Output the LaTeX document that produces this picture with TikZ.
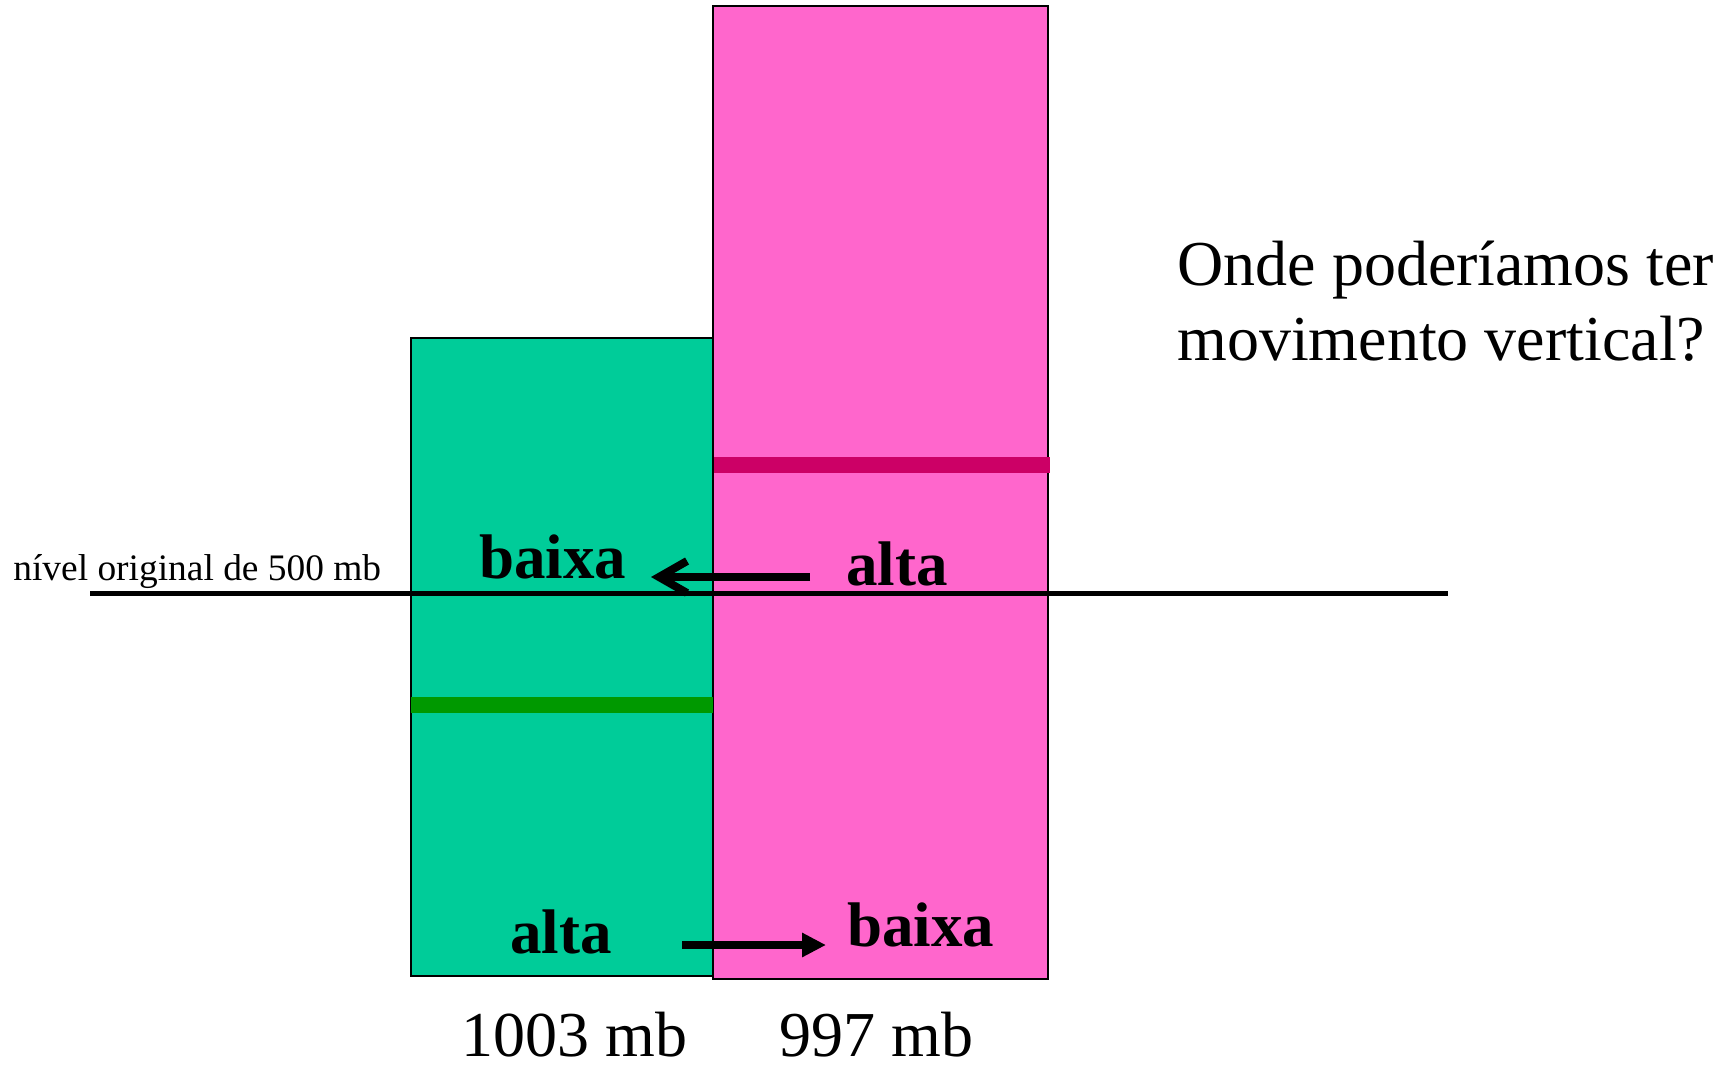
\documentclass[tikz,border=0pt]{standalone}
\usepackage{fontspec}
\setmainfont{Liberation Serif}
\usetikzlibrary{arrows.meta}
\definecolor{boxgreen}{RGB}{0,204,153}
\definecolor{boxpink}{RGB}{255,102,204}
\definecolor{levelmagenta}{RGB}{204,0,102}
\definecolor{levelgreen}{RGB}{0,153,0}
\tikzset{
  column/.style={draw=black, line width=1pt},
  levelbar/.style={line width=7.75pt},
  basetext/.style={anchor=base west, inner sep=0pt, font=\fontsize{32pt}{38pt}\selectfont},
  boldtext/.style={anchor=base west, inner sep=0pt, font=\fontsize{31.5pt}{37.8pt}\selectfont\bfseries},
  smalltext/.style={anchor=base west, inner sep=0pt, font=\fontsize{18.7pt}{22pt}\selectfont},
  flowarrow/.style={line width=4pt, -{Straight Barb[length=14pt,width=16pt]}},
  fillarrow/.style={line width=3.85pt, -{Triangle[length=12pt,width=11.5pt]}}
}
\begin{document}
\begin{tikzpicture}[x=0.5pt,y=-0.5pt]
\useasboundingbox (0,0) rectangle (1734,1065);
% columns
\filldraw[column, fill=boxgreen] (411,338) rectangle (713,976);
\filldraw[column, fill=boxpink] (713,6) rectangle (1048,979);
% pressure levels
\coordinate (mg-l) at (714,465);
\coordinate (mg-r) at (1050,465);
\draw[levelbar, levelmagenta] (mg-l) -- (mg-r);
\coordinate (gr-l) at (411,705);
\coordinate (gr-r) at (713,705);
\draw[levelbar, levelgreen] (gr-l) -- (gr-r);
% original 500 mb level
\coordinate (lv-l) at (90,593);
\coordinate (lv-r) at (1448,593);
\draw[line width=2.5pt] (lv-l) -- (lv-r);
\node[smalltext] (lvtext) at (13,580) {nível original de 500 mb};
% upper labels and arrow
\node[boldtext] (ubaixa) at (479,578) {baixa};
\node[boldtext] (ualta) at (846,585) {alta};
\coordinate (ua-s) at (810,577);
\coordinate (ua-e) at (651,577);
\draw[flowarrow] (ua-s) -- (ua-e);
% lower labels and arrow
\node[boldtext] (lalta) at (510,953) {alta};
\node[boldtext] (lbaixa) at (847,946) {baixa};
\coordinate (la-s) at (682,945);
\coordinate (la-e) at (826,945);
\draw[fillarrow] (la-s) -- (la-e);
% surface pressures
\node[basetext] (p1003) at (461,1056) {1003 mb};
\node[basetext] (p997) at (779,1056) {997 mb};
% question
\node[basetext] (q1) at (1177,285) {Onde poderíamos ter};
\node[basetext] (q2) at (1177,360) {movimento vertical?};
\end{tikzpicture}
\end{document}
